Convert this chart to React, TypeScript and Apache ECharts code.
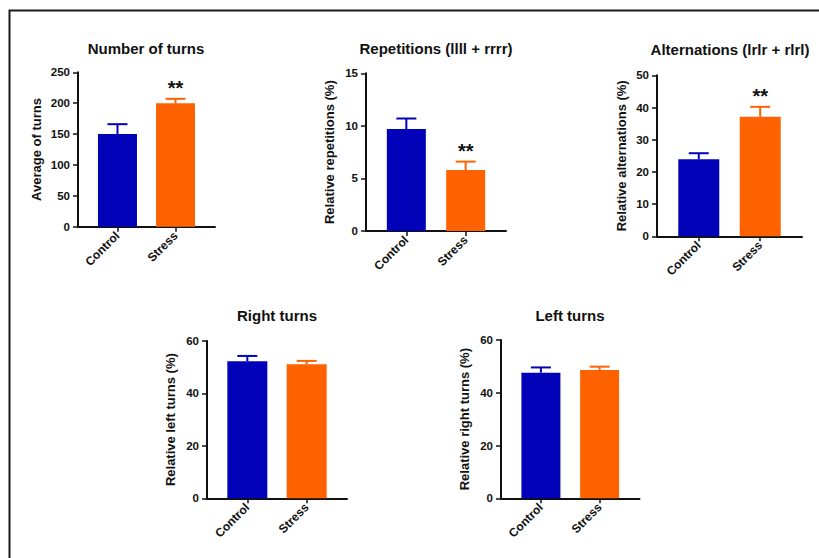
import React, { useEffect, useRef } from "react";
import * as echarts from "echarts";

// ---- data ----
const categories = ["Control", "Stress"];
const barColors = ["#0202B8", "#FF6200"];

const titles = [
  "Number of turns",
  "Repetitions (llll + rrrr)",
  "Alternations (lrlr + rlrl)",
  "Right turns",
  "Left turns",
];
const yNames = [
  "Average of turns",
  "Relative repetitions (%)",
  "Relative alternations (%)",
  "Relative left turns (%)",
  "Relative right turns (%)",
];

const turnsMean = [150, 200];
const turnsSem = [16, 7];
const repetitionsMean = [9.7, 5.8];
const repetitionsSem = [1.0, 0.8];
const alternationsMean = [23.9, 37.1];
const alternationsSem = [1.9, 3.1];
const rightTurnsMean = [52.3, 51.1];
const rightTurnsSem = [2.0, 1.3];
const leftTurnsMean = [47.6, 48.6];
const leftTurnsSem = [2.0, 1.3];

const turnsSig = ["", "**"];
const repetitionsSig = ["", "**"];
const alternationsSig = ["", "**"];
const rightTurnsSig = ["", ""];
const leftTurnsSig = ["", ""];

const yMax = [250, 15, 50, 60, 60];
const yInterval = [50, 5, 10, 20, 20];

const means = [turnsMean, repetitionsMean, alternationsMean, rightTurnsMean, leftTurnsMean];
const sems = [turnsSem, repetitionsSem, alternationsSem, rightTurnsSem, leftTurnsSem];
const sigs = [turnsSig, repetitionsSig, alternationsSig, rightTurnsSig, leftTurnsSig];

// ---- layout (styles) ----
const grids = [
  { left: 78, top: 72.3, width: 137, height: 154.4 },
  { left: 366, top: 73.3, width: 140, height: 157.7 },
  { left: 657, top: 75.3, width: 145, height: 161 },
  { left: 207, top: 341, width: 140, height: 157.3 },
  { left: 501, top: 340, width: 138.5, height: 158.3 },
];
const titlePos = [
  [146, 48],
  [436, 48],
  [730, 49],
  [277, 315],
  [570, 315],
];
const nameGaps = [35, 30, 29, 30, 30];
const barWidths = [39, 39, 41, 40, 39];

const FONT = "'Liberation Sans', Arial, Helvetica, sans-serif";

export default function App() {
  const ref = useRef<HTMLDivElement>(null);
  useEffect(() => {
    if (!ref.current) return;
    const chart = echarts.init(ref.current, null, { renderer: "svg" });

    const xAxis: any[] = [];
    const yAxis: any[] = [];
    const series: any[] = [];
    const graphic: any[] = [];

    graphic.push({
      type: "rect",
      shape: { x: 9.5, y: 10.5, width: 840, height: 600 },
      style: { fill: "none", stroke: "#1a1a1a", lineWidth: 2 },
      silent: true,
    });

    for (let i = 0; i < 5; i++) {
      graphic.push({
        type: "text",
        x: titlePos[i][0],
        y: titlePos[i][1],
        style: {
          text: titles[i],
          font: `bold 15px ${FONT}`,
          fill: "#111",
          textAlign: "center",
          textVerticalAlign: "middle",
        },
      });

      xAxis.push({
        type: "value",
        gridIndex: i,
        min: -0.68,
        max: 1.68,
        splitLine: { show: false },
        axisLine: { show: true, onZero: false, lineStyle: { color: "#111", width: 2 } },
        axisTick: {
          show: true,
          length: 5,
          customValues: [0, 1],
          lineStyle: { color: "#111", width: 1.5 },
        },
        axisLabel: {
          customValues: [0, 1],
          rotate: 45,
          margin: 7,
          fontSize: 12,
          fontWeight: "bold",
          fontFamily: FONT,
          color: "#111",
          formatter: (v: number) => categories[Math.round(v)] ?? "",
        },
      });

      yAxis.push({
        type: "value",
        gridIndex: i,
        min: 0,
        max: yMax[i],
        interval: yInterval[i],
        name: yNames[i],
        nameLocation: "middle",
        nameGap: nameGaps[i],
        nameTextStyle: {
          fontSize: 13,
          fontWeight: "bold",
          fontFamily: FONT,
          color: "#111",
        },
        splitLine: { show: false },
        axisLine: { show: true, onZero: false, lineStyle: { color: "#111", width: 2 } },
        axisTick: { show: true, length: 5, lineStyle: { color: "#111", width: 1.5 } },
        axisLabel: {
          margin: 8,
          fontSize: 11.5,
          fontWeight: "bold",
          fontFamily: FONT,
          color: "#111",
        },
      });

      const m = means[i];
      const s = sems[i];
      const sg = sigs[i];
      series.push({
        type: "bar",
        xAxisIndex: i,
        yAxisIndex: i,
        barWidth: barWidths[i],
        data: m.map((v, k) => ({
          value: [k, v],
          itemStyle: { color: barColors[k] },
        })),
      });
      series.push({
        type: "custom",
        xAxisIndex: i,
        yAxisIndex: i,
        clip: false,
        z: 3,
        data: m.map((v, k) => [k, v, s[k]]),
        renderItem: (params: any, api: any) => {
          const x = api.value(0);
          const mean = api.value(1);
          const err = api.value(2);
          const k = params.dataIndex;
          const p0 = api.coord([x, mean]);
          const p1 = api.coord([x, mean + err]);
          const color = barColors[k];
          const half = 10;
          const children: any[] = [
            {
              type: "line",
              shape: { x1: p0[0], y1: p0[1], x2: p1[0], y2: p1[1] },
              style: { stroke: color, lineWidth: 2 },
            },
            {
              type: "line",
              shape: { x1: p1[0] - half, y1: p1[1], x2: p1[0] + half, y2: p1[1] },
              style: { stroke: color, lineWidth: 2 },
            },
          ];
          if (sg[k]) {
            children.push({
              type: "text",
              x: p1[0],
              y: p1[1] - 1,
              style: {
                text: sg[k],
                font: `bold 20px ${FONT}`,
                fill: "#111",
                textAlign: "center",
                textVerticalAlign: "bottom",
              },
            });
          }
          return { type: "group", children };
        },
      });
    }

    chart.setOption({
      animation: false,
      backgroundColor: "#fff",
      grid: grids.map((g) => ({ ...g, containLabel: false })),
      xAxis,
      yAxis,
      series,
      graphic,
    });
    return () => chart.dispose();
  }, []);
  return (
    <div
      ref={ref}
      style={{ position: "fixed", left: 0, top: 0, width: 819, height: 558, background: "#fff" }}
    />
  );
}
